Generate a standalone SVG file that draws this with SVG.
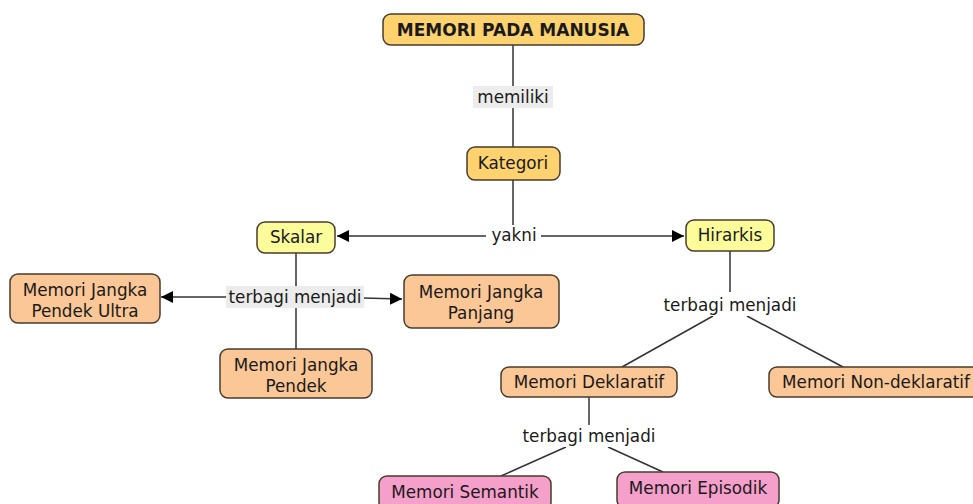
<svg xmlns="http://www.w3.org/2000/svg" width="973" height="504" viewBox="0 0 973 504">
<defs>
<style>
.n{stroke:#4a3b2c;stroke-width:1.5}
.gold{fill:#fdd26f}
.yel{fill:#fcfc9a}
.ora{fill:#fbc796}
.pink{fill:#f59fcb}
.t{font-family:"DejaVu Sans",Verdana,sans-serif;font-size:16.8px;fill:#1a1a1a;text-anchor:middle}
.b{font-weight:bold;font-size:17px}
.c{stroke:#333;stroke-width:1.5;fill:none}
.lb{fill:#ececec}
</style>
<marker id="ah" viewBox="0 0 10 10" refX="10" refY="5" markerWidth="12" markerHeight="12" markerUnits="userSpaceOnUse" orient="auto">
<path d="M0,0 L10,5 L0,10 z" fill="#000"/>
</marker>
</defs>
<rect width="973" height="504" fill="#fff"/>
<g id="connectors">
<line class="c" x1="513" y1="45" x2="513" y2="147"/>
<line class="c" x1="513" y1="180" x2="513" y2="228"/>
<line class="c" x1="486" y1="236" x2="337" y2="236" marker-end="url(#ah)"/>
<line class="c" x1="540" y1="236" x2="684" y2="236" marker-end="url(#ah)"/>
<line class="c" x1="296" y1="253" x2="296" y2="349"/>
<line class="c" x1="228" y1="297" x2="161" y2="297" marker-end="url(#ah)"/>
<line class="c" x1="362" y1="298" x2="402" y2="299" marker-end="url(#ah)"/>
<line class="c" x1="730" y1="251" x2="730" y2="292"/>
<line class="c" x1="713" y1="316" x2="622" y2="367"/>
<line class="c" x1="747" y1="316" x2="843" y2="367"/>
<line class="c" x1="589" y1="397" x2="589" y2="427"/>
<line class="c" x1="566" y1="447" x2="501" y2="476"/>
<line class="c" x1="608" y1="447" x2="663" y2="472"/>
<rect class="lb" x="473" y="86" width="80" height="22"/>
<text class="t" x="513" y="103">memiliki</text>
<rect fill="#fff" x="487" y="225" width="54" height="22"/>
<text class="t" x="514" y="241">yakni</text>
<rect class="lb" x="226" y="286" width="138" height="22"/>
<text class="t" x="295" y="303">terbagi menjadi</text>
<rect fill="#fff" x="660" y="294" width="140" height="22"/>
<text class="t" x="730" y="311">terbagi menjadi</text>
<rect fill="#fff" x="519" y="425" width="140" height="22"/>
<text class="t" x="589" y="442">terbagi menjadi</text>
</g>
<g id="n-memori-pada-manusia">
<rect class="n gold" x="383" y="14" width="261" height="31" rx="8"/>
<text class="t b" x="513" y="36">MEMORI PADA MANUSIA</text>
</g>
<g id="n-kategori">
<rect class="n gold" x="467" y="147" width="93" height="33" rx="8"/>
<text class="t" x="513" y="169">Kategori</text>
</g>
<g id="n-skalar">
<rect class="n yel" x="257" y="222" width="78" height="31" rx="8"/>
<text class="t" x="296" y="243">Skalar</text>
</g>
<g id="n-hirarkis">
<rect class="n yel" x="686" y="220" width="88" height="31" rx="8"/>
<text class="t" x="730" y="241">Hirarkis</text>
</g>
<g id="n-mjpu">
<rect class="n ora" x="10" y="274" width="150" height="49" rx="8"/>
<text class="t" x="85" y="296">Memori Jangka</text>
<text class="t" x="85" y="317">Pendek Ultra</text>
</g>
<g id="n-mj-panjang">
<rect class="n ora" x="404" y="275" width="155" height="53" rx="8"/>
<text class="t" x="481" y="298">Memori Jangka</text>
<text class="t" x="481" y="319">Panjang</text>
</g>
<g id="n-mj-pendek">
<rect class="n ora" x="220" y="349" width="152" height="49" rx="8"/>
<text class="t" x="296" y="371">Memori Jangka</text>
<text class="t" x="296" y="392">Pendek</text>
</g>
<g id="n-deklaratif">
<rect class="n ora" x="501" y="367" width="176" height="30" rx="8"/>
<text class="t" x="589" y="388">Memori Deklaratif</text>
</g>
<g id="n-non-deklaratif">
<rect class="n ora" x="769" y="367" width="214" height="30" rx="8"/>
<text class="t" x="876" y="388">Memori Non-deklaratif</text>
</g>
<g id="n-semantik">
<rect class="n pink" x="379" y="476" width="172" height="34" rx="8"/>
<text class="t" x="465" y="498">Memori Semantik</text>
</g>
<g id="n-episodik">
<rect class="n pink" x="617" y="472" width="162" height="36" rx="8"/>
<text class="t" x="698" y="494">Memori Episodik</text>
</g>
</svg>
